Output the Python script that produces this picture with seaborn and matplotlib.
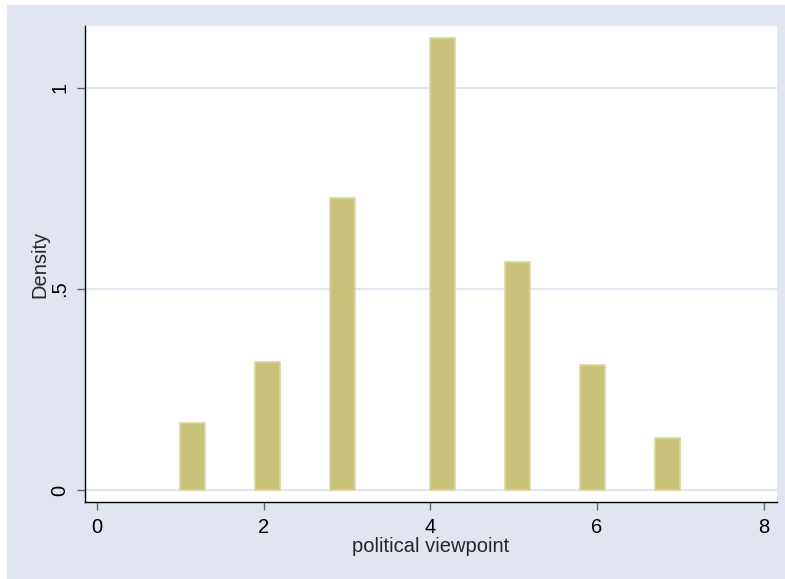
import numpy as np
import pandas as pd
import seaborn as sns
import matplotlib
matplotlib.use("Agg")
import matplotlib.pyplot as plt
from matplotlib.patches import Rectangle

# Political viewpoint scale (1-7) and the histogram density of each value
viewpoint = [1, 2, 3, 4, 5, 6, 7]
density = [0.167, 0.318, 0.726, 1.124, 0.567, 0.311, 0.129]

x_ticks = [0, 2, 4, 6, 8]
y_ticks = [0, 0.5, 1]
y_ticklabels = ["0", ".5", "1"]

# 20 equal-width bins spanning the observed range, as in the default histogram
n_bins = 20
lo, hi = min(viewpoint), max(viewpoint)
width = (hi - lo) / n_bins
bin_idx = [min(int(np.floor((v - lo) / width + 1e-9)), n_bins - 1) for v in viewpoint]
centers = [lo + width * i + width / 2 for i in bin_idx]

df = pd.DataFrame({"viewpoint": centers, "density": density})

sns.set_style("white")
plt.rcParams["font.family"] = ["Liberation Sans", "DejaVu Sans"]

bg = "#e0e5f0"
fs = 14.5
fig = plt.figure(figsize=(7.85, 5.79), dpi=100, facecolor="white")
fig.patches.append(Rectangle((7 / 785, 0), 1, 1 - 5 / 579, transform=fig.transFigure,
                             facecolor=bg, edgecolor="none", zorder=-10))
ax = fig.add_axes([85 / 785, 1 - 502 / 579, (777 - 85) / 785, (502 - 26) / 579])
ax.set_facecolor("white")

sns.histplot(data=df, x="viewpoint", weights="density", binwidth=width,
             binrange=(lo, hi), stat="count",
             color="#c9c27b", edgecolor="#dcd69e", linewidth=1.2, alpha=1,
             ax=ax, zorder=3)

# empty bins leave no outline on the baseline
for patch in ax.patches:
    if patch.get_height() <= 0:
        patch.set_visible(False)

ax.set_xlim(-0.146, 8.16)
ax.set_ylim(-0.0299, 1.154)
ax.set_xticks(x_ticks)
ax.set_xticklabels([str(t) for t in x_ticks])
ax.set_yticks(y_ticks)
ax.set_yticklabels(y_ticklabels, rotation=90, va="center")

ax.grid(axis="y", color=bg, linewidth=1.6, zorder=0)
ax.grid(axis="x", visible=False)
ax.set_axisbelow(True)

for side in ["top", "right"]:
    ax.spines[side].set_visible(False)
for side in ["left", "bottom"]:
    ax.spines[side].set_color("black")
    ax.spines[side].set_linewidth(1.0)

ax.tick_params(axis="both", which="major", direction="out", length=5.5, width=1,
               color="#666666", labelsize=fs, labelcolor="black", pad=6,
               left=True, bottom=True)

ax.set_xlabel("political viewpoint", fontsize=fs, labelpad=0)
ax.set_ylabel("Density", fontsize=fs, labelpad=0.5)

fig.savefig("out.png", dpi=100, facecolor="white")
